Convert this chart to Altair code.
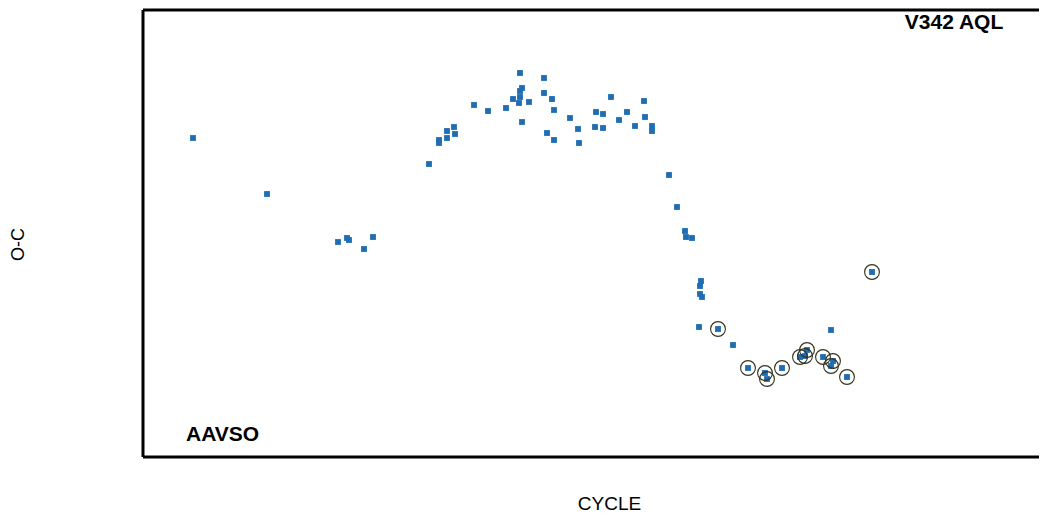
import altair as alt
import pandas as pd

# CYCLE and O-C values (arbitrary units, no tick labels in the reference)
cycle = [500, 1240, 1950, 2040, 2060, 2210, 2300, 2860, 2960, 2960, 3040, 3040, 3110, 3120,
         3310, 3450, 3630, 3700, 3770, 3790, 3770, 3770, 3760, 3860, 3790, 4010, 4010, 4090,
         4110, 4040, 4110, 4270, 4350, 4360, 4530, 4600, 4520, 4600, 4680, 4760, 4840, 4920,
         5010, 5020, 5090, 5090, 5260, 5340, 5420, 5430, 5490, 5580, 5570, 5570, 5590, 5560,
         5900, 6880,
         5750, 6050, 6220, 6240, 6390, 6570, 6620, 6640, 6800, 6900, 6880, 7040, 7290]
oc = [0.0319, 0.0263, 0.0215, 0.0219, 0.0217, 0.0208, 0.0220, 0.0293, 0.0317, 0.0314, 0.0326,
      0.0319, 0.0330, 0.0323, 0.0352, 0.0346, 0.0349, 0.0358, 0.0384, 0.0369, 0.0366, 0.0360,
      0.0354, 0.0355, 0.0335, 0.0379, 0.0364, 0.0358, 0.0347, 0.0324, 0.0317, 0.0339, 0.0328,
      0.0314, 0.0345, 0.0343, 0.0330, 0.0329, 0.0360, 0.0337, 0.0345, 0.0331, 0.0356, 0.0340,
      0.0331, 0.0326, 0.0282, 0.0250, 0.0226, 0.0220, 0.0219, 0.0176, 0.0171, 0.0163, 0.0160,
      0.0130, 0.0112, 0.0127,
      0.0128, 0.0089, 0.0084, 0.0078, 0.0089, 0.0100, 0.0101, 0.0107, 0.0100, 0.0096, 0.0091,
      0.0080, 0.0185]
circled = [False] * 58 + [True] * 13

df = pd.DataFrame({"cycle": cycle, "oc": oc, "circled": circled})

W, H = 896, 447
FONT = "Liberation Sans"

xenc = alt.X("cycle:Q", scale=alt.Scale(domain=[0, 8960], nice=False, zero=False),
             axis=alt.Axis(title="CYCLE", labels=False, ticks=False, domain=False, grid=False,
                           titlePadding=37, titleX=466, titleFontSize=19, titleFont=FONT,
                           titleFontWeight="normal", titleColor="black"))
yenc = alt.Y("oc:Q", scale=alt.Scale(domain=[0, 0.0447], nice=False, zero=False),
             axis=alt.Axis(title="O-C", labels=False, ticks=False, domain=False, grid=False,
                           titlePadding=116, titleY=234, titleFontSize=18, titleFont=FONT,
                           titleFontWeight="normal", titleColor="black"))

points = alt.Chart(df).mark_point(shape="square", filled=True, size=34, color="#1f6db3",
                                  opacity=1).encode(x=xenc, y=yenc)
rings = alt.Chart(df).transform_filter("datum.circled").mark_point(
    shape="circle", filled=False, size=220, stroke="#333320", strokeWidth=1.1, opacity=1
).encode(x="cycle:Q", y="oc:Q")

one = pd.DataFrame({"k": [1]})
frame_left = alt.Chart(one).mark_rule(color="black", strokeWidth=3).encode(
    x=alt.value(0), y=alt.value(0), y2=alt.value(H))
frame_top = alt.Chart(one).mark_rule(color="black", strokeWidth=3).encode(
    x=alt.value(0), x2=alt.value(W), y=alt.value(0))
frame_bottom = alt.Chart(one).mark_rule(color="black", strokeWidth=3).encode(
    x=alt.value(0), x2=alt.value(W), y=alt.value(H))

label_star = alt.Chart(one).mark_text(text="V342 AQL", font=FONT, fontSize=21, fontWeight="bold",
                                      align="center", baseline="alphabetic", color="black").encode(
    x=alt.value(811), y=alt.value(19))
label_src = alt.Chart(one).mark_text(text="AAVSO", font=FONT, fontSize=21, fontWeight="bold",
                                     align="left", baseline="alphabetic", color="black").encode(
    x=alt.value(43), y=alt.value(431))

chart = alt.layer(points, rings, frame_left, frame_top, frame_bottom, label_star, label_src).properties(
    width=W, height=H,
    autosize=alt.AutoSizeParams(type="none"),
    padding={"left": 135, "top": 2, "right": 0, "bottom": 58},
    background="white",
).configure_view(stroke=None)

chart.save("out.html", embed_options={"renderer": "svg", "actions": False})
